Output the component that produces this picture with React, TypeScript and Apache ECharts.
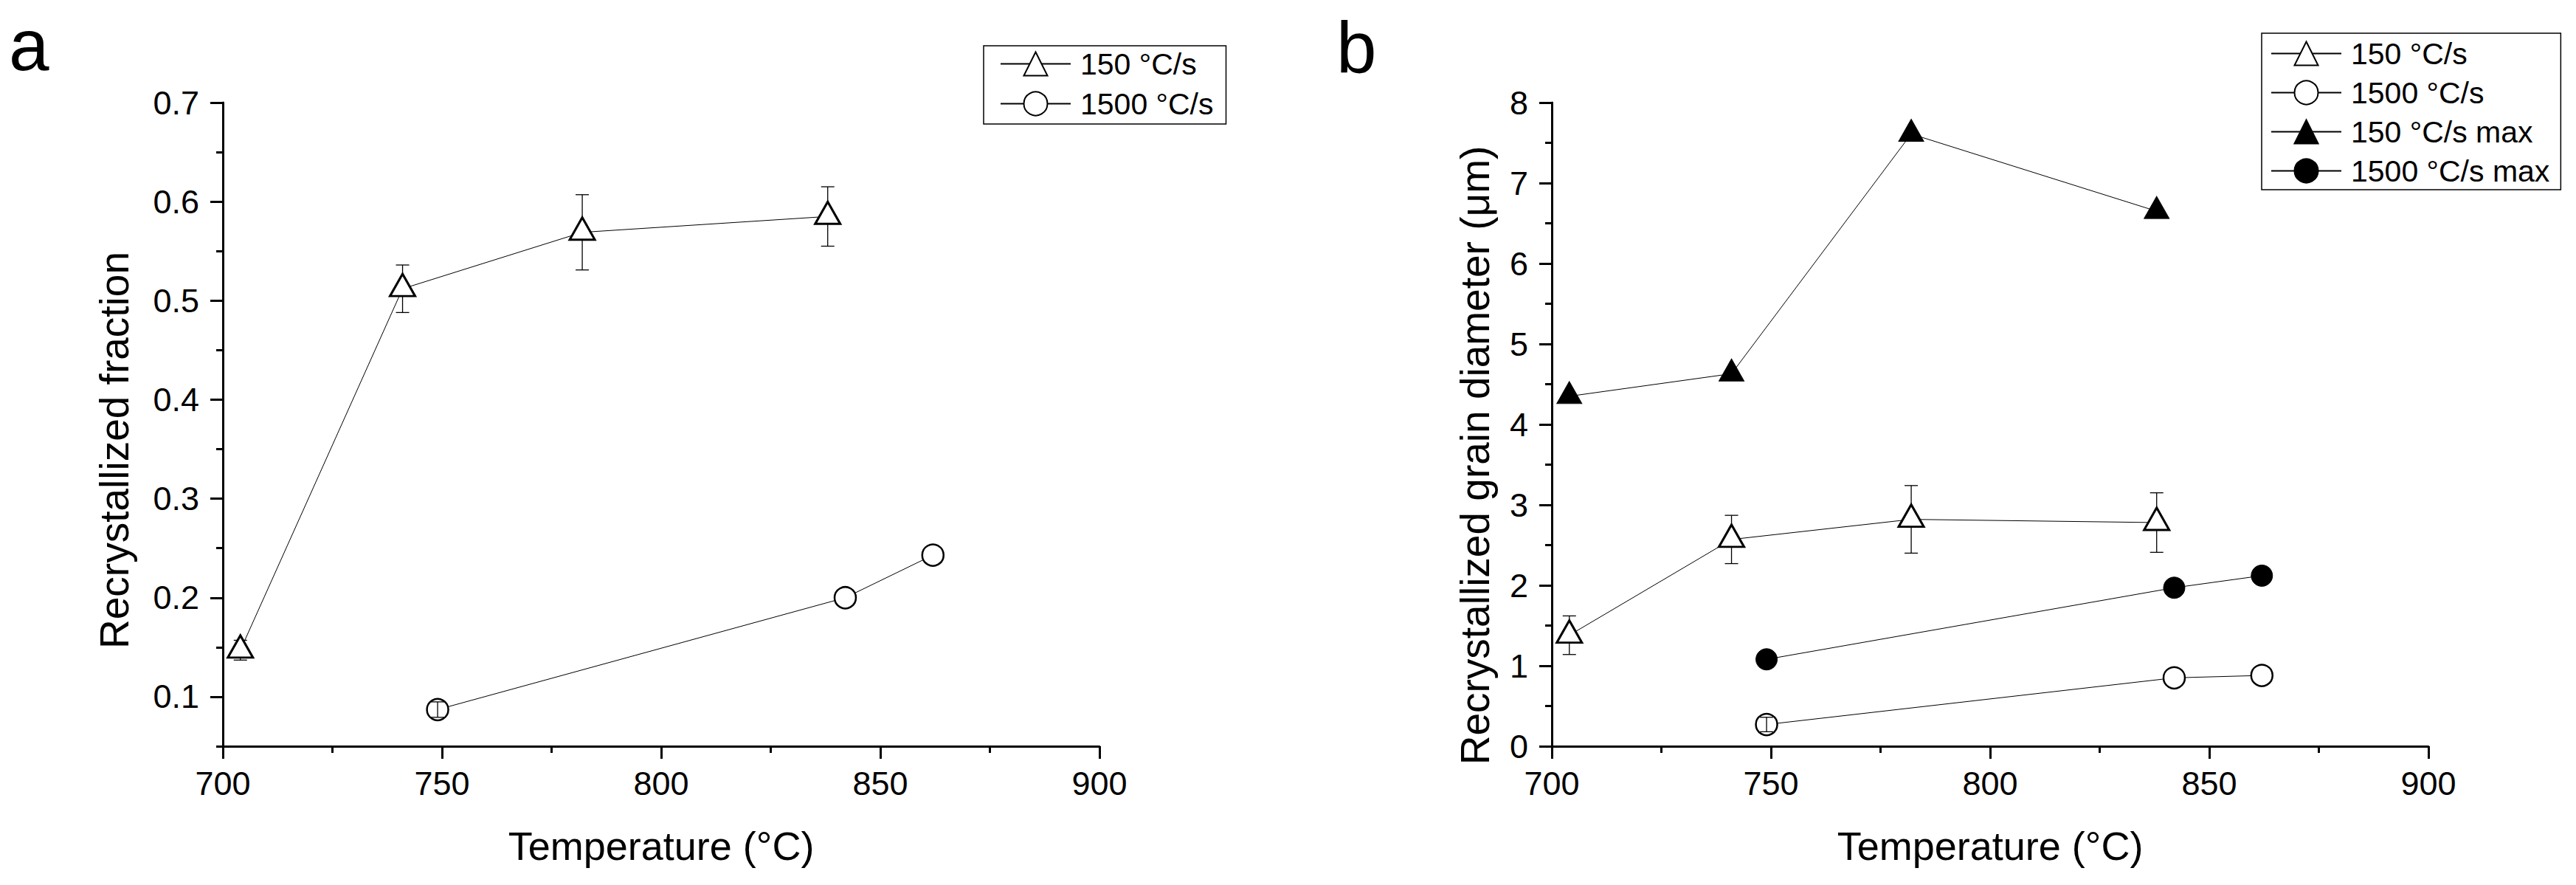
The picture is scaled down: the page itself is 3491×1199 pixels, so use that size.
import * as echarts from "echarts";
import { useEffect, useRef } from "react";

// panel a: recrystallized fraction
const tempA150 = [704, 741, 782, 838];
const fracA150 = [0.147, 0.512, 0.569, 0.585];
const fracA150Err = [0.01, 0.024, 0.038, 0.03];
const tempA1500 = [749, 842, 862];
const fracA1500 = [0.087, 0.2, 0.243];
const fracA1500Err = [0.0078, 0, 0];

// panel b: recrystallized grain diameter
const tempB150 = [704, 741, 782, 838];
const diamB150 = [1.38, 2.57, 2.82, 2.78];
const diamB150Err = [0.24, 0.3, 0.42, 0.37];
const tempB1500 = [749, 842, 862];
const diamB1500 = [0.27, 0.85, 0.88];
const diamB1500Err = [0.09, 0, 0];
const diamB150Max = [4.35, 4.63, 7.61, 6.65];
const diamB1500Max = [1.08, 1.97, 2.12];

// tick values
const fracMajorTicks = [0.1, 0.2, 0.3, 0.4, 0.5, 0.6, 0.7];
const fracMinorTicks = [0.05, 0.15, 0.25, 0.35, 0.45, 0.55, 0.65];

const namesA = ["150 °C/s", "1500 °C/s"];
const namesB = ["150 °C/s", "1500 °C/s", "150 °C/s max", "1500 °C/s max"];

const FONT = "'Liberation Sans', Arial, sans-serif";

const zip = (xs: number[], ys: number[], es?: number[]) =>
  xs.map((x, i) => (es ? [x, ys[i], es[i]] : [x, ys[i]]));

// vertical error bar with caps
const errorBars = (params: any, api: any) => {
  const x = api.value(0);
  const y = api.value(1);
  const e = api.value(2);
  if (!e) return { type: "group", children: [] };
  const top = api.coord([x, y + e]);
  const bot = api.coord([x, y - e]);
  const hw = 9;
  const style = { stroke: "#000", lineWidth: 1.3 };
  return {
    type: "group",
    children: [
      { type: "line", shape: { x1: top[0], y1: top[1], x2: bot[0], y2: bot[1] }, style },
      { type: "line", shape: { x1: top[0] - hw, y1: top[1], x2: top[0] + hw, y2: top[1] }, style },
      { type: "line", shape: { x1: bot[0] - hw, y1: bot[1], x2: bot[0] + hw, y2: bot[1] }, style },
    ],
  };
};

const openTri = {
  symbol: "triangle",
  symbolSize: [34, 30],
  symbolOffset: [0, -5],
  itemStyle: { color: "#fff", borderColor: "#000", borderWidth: 3 },
};
const openCircle = {
  symbol: "circle",
  symbolSize: 29,
  itemStyle: { color: "#fff", borderColor: "#000", borderWidth: 2.5 },
};
const fillTri = {
  symbol: "triangle",
  symbolSize: [34, 30],
  symbolOffset: [0, -5],
  itemStyle: { color: "#000", borderColor: "#000", borderWidth: 1 },
};
const fillCircle = {
  symbol: "circle",
  symbolSize: 29,
  itemStyle: { color: "#000", borderColor: "#000", borderWidth: 1 },
};

const lineBase = {
  type: "line",
  lineStyle: { color: "#000", width: 1 },
  showSymbol: true,
};

const xAxisBase = (gridIndex: number) => ({
  type: "value",
  gridIndex,
  min: 700,
  max: 900,
  interval: 50,
  name: "Temperature (°C)",
  nameLocation: "middle",
  nameGap: 108,
  nameTextStyle: { fontSize: 54, fontFamily: FONT, color: "#000" },
  axisLine: { lineStyle: { color: "#000", width: 3 } },
  axisTick: { length: 17, lineStyle: { color: "#000", width: 3 } },
  minorTick: { show: true, splitNumber: 2, length: 9, lineStyle: { color: "#000", width: 3 } },
  axisLabel: { fontSize: 45, fontFamily: FONT, color: "#000", margin: 28 },
  splitLine: { show: false },
});

const legendBase = {
  orient: "vertical",
  itemWidth: 95,
  itemHeight: 40,
  borderColor: "#000",
  borderWidth: 1.5,
  textStyle: { fontSize: 41, fontFamily: FONT, color: "#000", padding: [0, 0, 0, 8] },
};

const option = {
  animation: false,
  backgroundColor: "#fff",
  title: [
    { text: "a", left: 12, top: 12, padding: 0, textStyle: { fontSize: 98, fontWeight: "normal", fontFamily: FONT, color: "#000" } },
    { text: "b", left: 1811, top: 15, padding: 0, textStyle: { fontSize: 98, fontWeight: "normal", fontFamily: FONT, color: "#000" } },
  ],
  legend: [
    {
      ...legendBase,
      data: namesA,
      left: 1333,
      top: 62,
      itemGap: 13,
      padding: [4, 17, 7, 22],
    },
    {
      ...legendBase,
      data: namesB,
      left: 3065,
      top: 45,
      itemGap: 12,
      padding: [7, 15, 5, 12],
    },
  ],
  grid: [
    { left: 302, top: 139, width: 1188, height: 872 },
    { left: 2103, top: 139, width: 1188, height: 872 },
  ],
  xAxis: [xAxisBase(0), xAxisBase(1)],
  yAxis: [
    {
      type: "value",
      gridIndex: 0,
      position: "left",
      min: 0.05,
      max: 0.7,
      interval: 0.05,
      name: "Recrystallized fraction",
      nameLocation: "middle",
      nameGap: 120,
      // right padding moves the rotated title down, as in the original
      nameTextStyle: { fontSize: 55, fontFamily: FONT, color: "#000", padding: [0, 70, 0, 0] },
      axisLine: { lineStyle: { color: "#000", width: 3 } },
      axisTick: { length: 17, customValues: fracMajorTicks, lineStyle: { color: "#000", width: 3 } },
      axisLabel: { fontSize: 45, fontFamily: FONT, color: "#000", margin: 32, customValues: fracMajorTicks },
      splitLine: { show: false },
    },
    {
      type: "value",
      gridIndex: 0,
      position: "left",
      offset: 0,
      min: 0.05,
      max: 0.7,
      interval: 0.05,
      axisLine: { show: false },
      axisTick: { length: 9, customValues: fracMinorTicks, lineStyle: { color: "#000", width: 3 } },
      axisLabel: { show: false },
      splitLine: { show: false },
    },
    {
      type: "value",
      gridIndex: 1,
      position: "left",
      min: 0,
      max: 8,
      interval: 1,
      name: "Recrystallized grain diameter (μm)",
      nameLocation: "middle",
      nameGap: 77,
      nameTextStyle: { fontSize: 55, fontFamily: FONT, color: "#000", padding: [0, 84, 0, 0] },
      axisLine: { lineStyle: { color: "#000", width: 3 } },
      axisTick: { length: 17, lineStyle: { color: "#000", width: 3 } },
      minorTick: { show: true, splitNumber: 2, length: 9, lineStyle: { color: "#000", width: 3 } },
      axisLabel: { fontSize: 45, fontFamily: FONT, color: "#000", margin: 32 },
      splitLine: { show: false },
    },
  ],
  series: [
    // panel a
    { type: "custom", name: "errA150", xAxisIndex: 0, yAxisIndex: 0, z: 1, renderItem: errorBars, data: zip(tempA150, fracA150, fracA150Err) },
    { ...lineBase, ...openTri, name: namesA[0], xAxisIndex: 0, yAxisIndex: 0, z: 2, data: zip(tempA150, fracA150) },
    { ...lineBase, ...openCircle, name: namesA[1], xAxisIndex: 0, yAxisIndex: 0, z: 2, data: zip(tempA1500, fracA1500) },
    { type: "custom", name: "errA1500", xAxisIndex: 0, yAxisIndex: 0, z: 3, renderItem: errorBars, data: zip(tempA1500, fracA1500, fracA1500Err) },
    // panel b
    { type: "custom", name: "errB150", xAxisIndex: 1, yAxisIndex: 2, z: 1, renderItem: errorBars, data: zip(tempB150, diamB150, diamB150Err) },
    { ...lineBase, ...openTri, name: namesB[0], xAxisIndex: 1, yAxisIndex: 2, z: 2, data: zip(tempB150, diamB150) },
    { ...lineBase, ...openCircle, name: namesB[1], xAxisIndex: 1, yAxisIndex: 2, z: 2, data: zip(tempB1500, diamB1500) },
    { type: "custom", name: "errB1500", xAxisIndex: 1, yAxisIndex: 2, z: 3, renderItem: errorBars, data: zip(tempB1500, diamB1500, diamB1500Err) },
    { ...lineBase, ...fillTri, name: namesB[2], xAxisIndex: 1, yAxisIndex: 2, z: 2, data: zip(tempB150, diamB150Max) },
    { ...lineBase, ...fillCircle, name: namesB[3], xAxisIndex: 1, yAxisIndex: 2, z: 2, data: zip(tempB1500, diamB1500Max) },
  ],
};

export default function App() {
  const chartRef = useRef<HTMLDivElement | null>(null);

  useEffect(() => {
    if (!chartRef.current) return;
    const chart = echarts.init(chartRef.current, null, { renderer: "svg" });
    chart.setOption(option as any);
    return () => {
      chart.dispose();
    };
  }, []);

  return (
    <div
      ref={chartRef}
      style={{ position: "fixed", left: 0, top: 0, width: 3491, height: 1199, background: "#fff" }}
    />
  );
}
